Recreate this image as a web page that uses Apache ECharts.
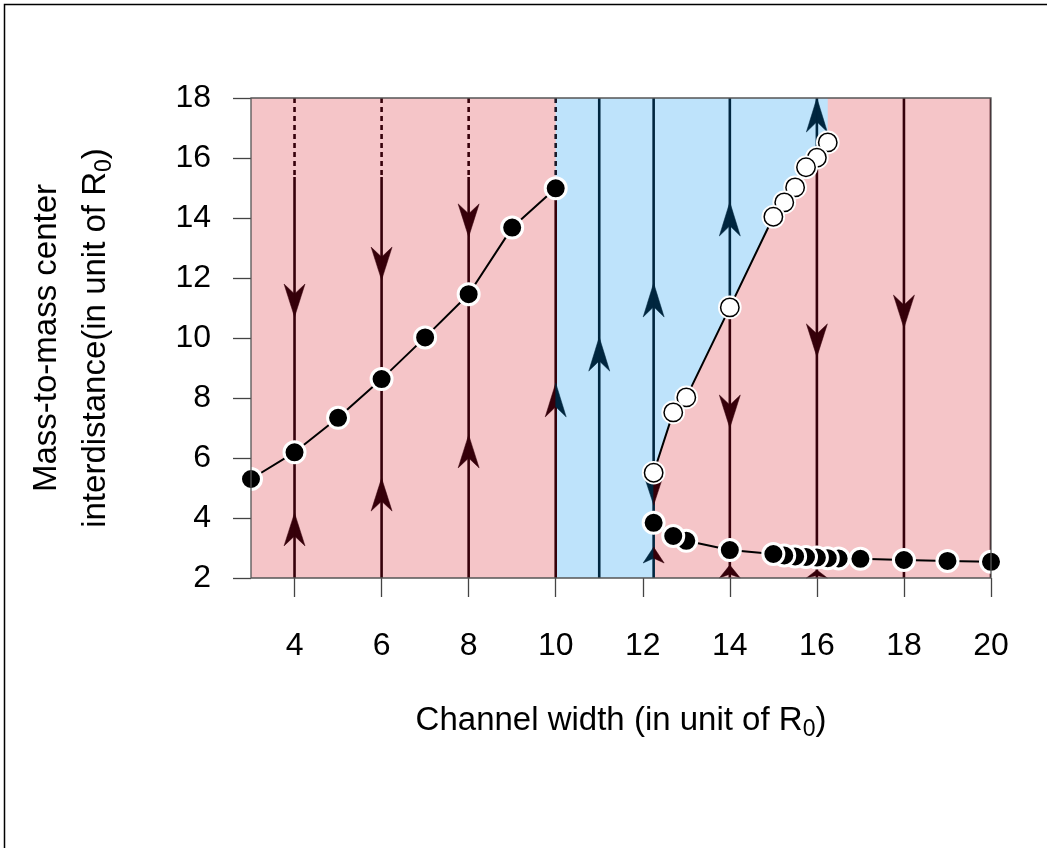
<!DOCTYPE html>
<html><head><meta charset="utf-8">
<script src="https://cdn.jsdelivr.net/npm/echarts@6/dist/echarts.min.js"></script>
<style>html,body{margin:0;padding:0;background:#fff}#c{width:1047px;height:848px}</style>
</head><body><div id="c"></div>
<script>
// ---------- data ----------
const xTicks = [4, 6, 8, 10, 12, 14, 16, 18, 20];
const yTicks = [2, 4, 6, 8, 10, 12, 14, 16, 18];

// stable branch (small widths)
const stableLowX = [3, 4, 5, 6, 7, 8, 9, 10];
const stableLowY = [5.30, 6.19, 7.34, 8.63, 10.02, 11.46, 13.68, 14.99];
// unstable branch (open circles)
const unstableX = [12.25, 12.7, 13, 14, 15, 15.25, 15.5, 15.75, 16, 16.25];
const unstableY = [5.51, 7.52, 8.02, 11.02, 14.04, 14.52, 15.02, 15.69, 16.01, 16.52];
// stable branch (large widths)
const stableHighX = [12.25, 12.7, 13, 14, 15, 15.25, 15.5, 15.75, 16, 16.25, 16.5, 17, 18, 19, 20];
const stableHighY = [3.84, 3.40, 3.24, 2.93, 2.80, 2.75, 2.72, 2.70, 2.68, 2.66, 2.65, 2.64, 2.60, 2.57, 2.54];

// trajectories: [x, yFrom, yTo, regime ('r' converging / 'b' diverging), dashed]
const trajSegments = [
  [4, 18, 15.37, 'r', 1], [4, 15.37, 2, 'r', 0],
  [6, 18, 15.37, 'r', 1], [6, 15.37, 2, 'r', 0],
  [8, 18, 15.37, 'r', 1], [8, 15.37, 2, 'r', 0],
  [10, 18, 14.99, 'b', 1], [10, 14.99, 2, 'r', 0],
  [11, 18, 2, 'b', 0],
  [12.25, 18, 2, 'b', 0],
  [14, 18, 11.02, 'b', 0], [14, 11.02, 2, 'r', 0],
  [16, 18, 16.01, 'b', 0], [16, 16.01, 2, 'r', 0],
  [18, 18, 2, 'r', 0],
  [20, 18, 2, 'r', 0]
];
// arrows: [x, tailY, tipY, regime (left/right halves)]
const arrows = [
  [4, 11.8, 10.7, 'r'], [4, 3.07, 4.17, 'r'],
  [6, 13.03, 11.93, 'r'], [6, 4.23, 5.33, 'r'],
  [8, 14.47, 13.37, 'r'], [8, 5.67, 6.77, 'r'],
  [10, 7.37, 8.5, 'rb'],
  [11, 8.87, 10.03, 'b'],
  [12.25, 10.7, 11.83, 'b'], [12.25, 5.5, 4.43, 'br'], [12.25, 2.5, 3.03, 'br'],
  [14, 13.4, 14.53, 'b'], [14, 8.1, 7.0, 'r'], [14, 2.0, 2.43, 'r'],
  [16, 16.85, 18.0, 'b'], [16, 10.47, 9.37, 'r'], [16, 2.0, 2.27, 'r'],
  [18, 11.43, 10.33, 'r']
];
// diverging (blue) region outline
const blueRegion = [[10, 2], [12.25, 2]]
  .concat(unstableX.map((x, i) => [x, unstableY[i]]))
  .concat([[16.25, 18], [10, 18]]);

// ---------- styles ----------
const RED = '#36000a', NAVY = '#00263f';
const PINK = '#f5c5c8', BLUE = '#bee3fb';
const FONT = '"Liberation Sans", Arial, sans-serif';
const colorOf = c => c === 'b' ? NAVY : RED;

const pairs = (xs, ys) => xs.map((x, i) => [x, ys[i]]);

const chart = echarts.init(document.getElementById('c'), null, {renderer: 'canvas'});

function filledScatter(xs, ys) {
  return {
    type: 'scatter', z: 10,
    data: pairs(xs, ys).slice().reverse(),
    symbol: 'circle', symbolSize: 21,
    itemStyle: {color: '#000', borderColor: '#fff', borderWidth: 3, opacity: 1},
    emphasis: {disabled: true}, silent: true
  };
}

const richTitle = {
  n: {fontSize: 33, fontFamily: FONT, lineHeight: 40, verticalAlign: 'middle', fill: '#000'},
  s: {fontSize: 23, fontFamily: FONT, lineHeight: 22, verticalAlign: 'bottom', fill: '#000'}
};

const option = {
  animation: false,
  backgroundColor: '#fff',
  grid: {left: 251, right: 56, top: 98, bottom: 270, show: true,
    backgroundColor: PINK, borderColor: '#555', borderWidth: 0},
  xAxis: {
    type: 'value', min: 3, max: 20,
    splitLine: {show: false},
    axisLine: {show: false},
    axisTick: {show: true, length: 19, inside: false, customValues: xTicks,
      lineStyle: {color: '#444', width: 1.3}},
    axisLabel: {customValues: xTicks, margin: 52, color: '#000',
      fontSize: 32, fontFamily: FONT}
  },
  yAxis: {
    type: 'value', min: 2, max: 18, interval: 2,
    splitLine: {show: false},
    axisLine: {show: false},
    axisTick: {show: true, length: 18, lineStyle: {color: '#444', width: 1.3}},
    axisLabel: {margin: 40, color: '#000', fontSize: 32, fontFamily: FONT}
  },
  series: [
    { // blue region
      type: 'custom', z: 1, silent: true, clip: true,
      data: [[10, 2]],
      renderItem: (params, api) => ({
        type: 'polygon',
        shape: {points: blueRegion.map(p => api.coord(p))},
        style: {fill: BLUE, stroke: null}
      })
    },
    { // trajectories
      type: 'custom', z: 3, silent: true, clip: true,
      data: trajSegments.map(s => [s[0], s[1], s[2]]),
      renderItem: (params, api) => {
        const s = trajSegments[params.dataIndex];
        const a = api.coord([s[0], s[1]]), b = api.coord([s[0], s[2]]);
        return {
          type: 'line',
          shape: {x1: a[0], y1: a[1], x2: b[0], y2: b[1]},
          style: {stroke: s[4] ? (s[0] === 10 ? '#1a1a2a' : RED) : colorOf(s[3]),
            lineWidth: 2.6, lineDash: s[4] ? [5, 4] : null}
        };
      }
    },
    { // arrow heads
      type: 'custom', z: 4, silent: true, clip: false,
      data: arrows.map(a => [a[0], a[2]]),
      renderItem: (params, api) => {
        const ar = arrows[params.dataIndex];
        const tip = api.coord([ar[0], ar[2]]);
        const tail = api.coord([ar[0], ar[1]]);
        const dir = tail[1] > tip[1] ? 1 : -1; // +1: pointing up
        const len = Math.min(34, Math.abs(tail[1] - tip[1]));
        const hw = 10.5;
        const by = tip[1] + dir * len;
        const ny = tip[1] + dir * len * 0.7;
        const x = tip[0];
        const L = ar[3][0], R = ar[3][ar[3].length - 1];
        return {
          type: 'group',
          children: [
            {type: 'polygon', shape: {points: [[x, tip[1]], [x - hw, by], [x, ny]]},
              style: {fill: colorOf(L), stroke: colorOf(L), lineWidth: 0.5}},
            {type: 'polygon', shape: {points: [[x, tip[1]], [x, ny], [x + hw, by]]},
              style: {fill: colorOf(R), stroke: colorOf(R), lineWidth: 0.5}}
          ]
        };
      }
    },
    { type: 'line', z: 6, data: pairs(stableLowX, stableLowY), symbol: 'none',
      lineStyle: {color: '#000', width: 2}, silent: true },
    { type: 'line', z: 6, data: pairs(unstableX, unstableY), symbol: 'none',
      lineStyle: {color: '#000', width: 2}, silent: true },
    { type: 'line', z: 6, data: pairs(stableHighX, stableHighY), symbol: 'none',
      lineStyle: {color: '#000', width: 2}, silent: true },
    filledScatter(stableLowX, stableLowY),
    filledScatter(stableHighX, stableHighY),
    { // open circles
      type: 'custom', z: 10, silent: true, clip: false,
      data: pairs(unstableX, unstableY).slice().reverse(),
      renderItem: (params, api) => {
        const p = api.coord([api.value(0), api.value(1)]);
        return {
          type: 'group',
          children: [
            {type: 'circle', shape: {cx: p[0], cy: p[1], r: 11.8}, style: {fill: '#fff'}},
            {type: 'circle', shape: {cx: p[0], cy: p[1], r: 9.2},
              style: {fill: '#fff', stroke: '#000', lineWidth: 1.5}}
          ]
        };
      }
    }
  ],
  graphic: [
    {type: 'rect', z: 100, silent: true,
      shape: {x: 251, y: 98, width: 740, height: 480},
      style: {fill: null, stroke: '#555', lineWidth: 1.3}},
    {type: 'rect', z: 100, silent: true,
      shape: {x: 4.5, y: 4.5, width: 1100, height: 1000},
      style: {fill: null, stroke: '#000', lineWidth: 1.5}},
    {type: 'text', z: 100, silent: true, x: 621, y: 721,
      style: {text: '{n|Channel width (in unit of R}{s|0}{n|)}', align: 'center', verticalAlign: 'middle',
        rich: richTitle}},
    {type: 'text', z: 100, silent: true, x: 47, y: 338, rotation: Math.PI / 2,
      style: {text: 'Mass-to-mass center', align: 'center', verticalAlign: 'middle',
        font: '33px ' + FONT, fill: '#000'}},
    {type: 'text', z: 100, silent: true, x: 96, y: 338, rotation: Math.PI / 2,
      style: {text: '{n|interdistance(in unit of R}{s|0}{n|)}', align: 'center', verticalAlign: 'middle',
        rich: richTitle}}
  ]
};
chart.setOption(option);
</script>
</body></html>
